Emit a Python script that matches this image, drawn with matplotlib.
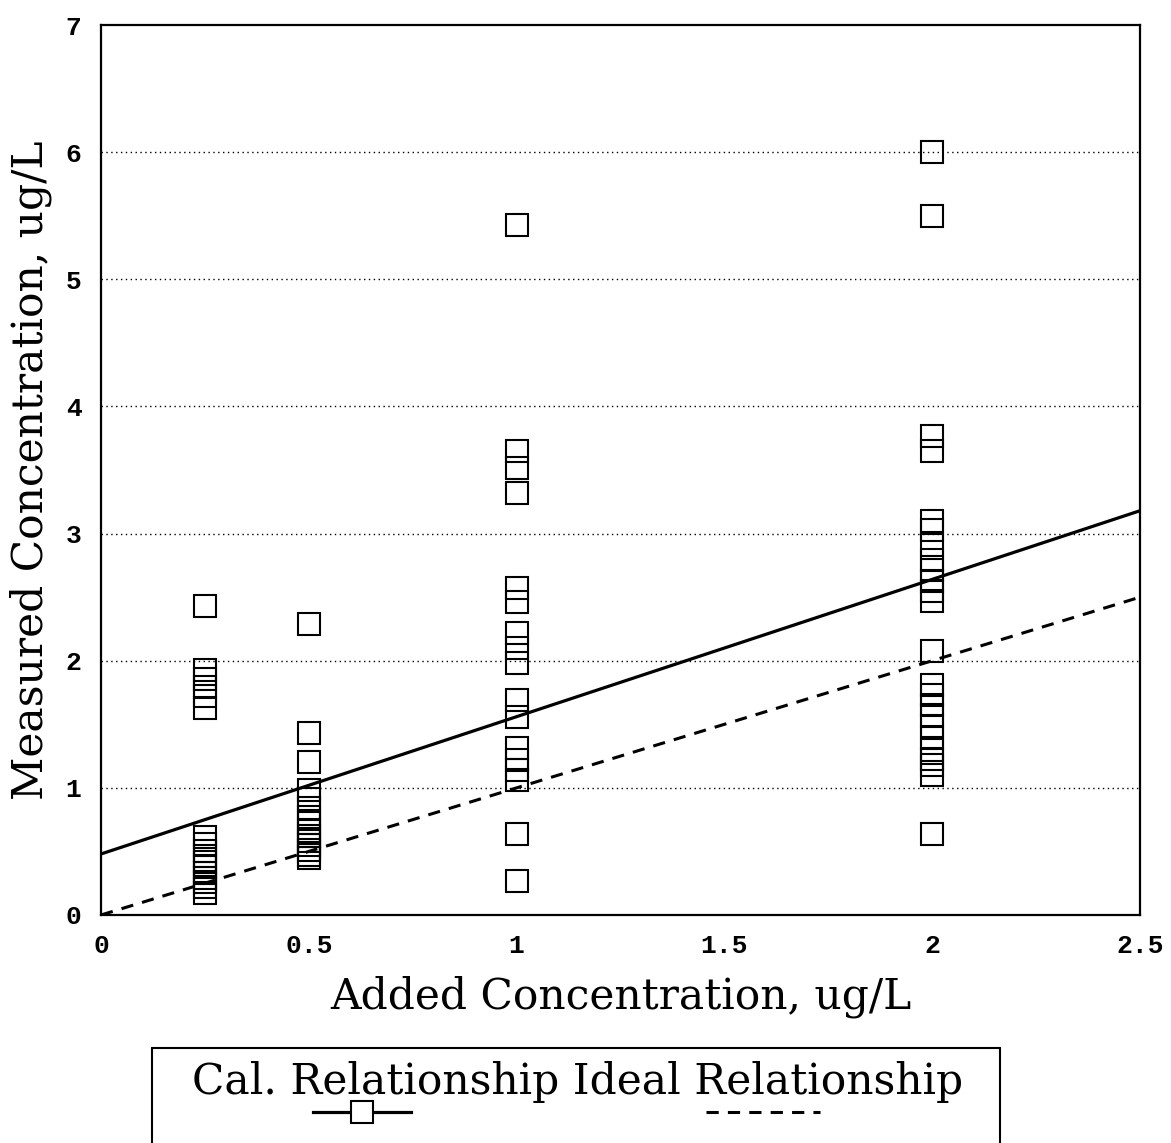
import numpy as np
import matplotlib
matplotlib.use("Agg")
import matplotlib.pyplot as plt
from matplotlib.lines import Line2D
from matplotlib.patches import Rectangle
from matplotlib.font_manager import FontProperties

# measured values at each added concentration (ug/L)
meas_025 = [2.43, 1.93, 1.86, 1.79, 1.72, 1.63,
            0.61, 0.56, 0.50, 0.46, 0.42, 0.38, 0.33, 0.29, 0.26, 0.22, 0.17]
meas_05 = [2.29, 1.43, 1.20, 0.98, 0.91, 0.84, 0.77, 0.72, 0.66, 0.62,
           0.58, 0.55, 0.51, 0.47, 0.45]
meas_1 = [5.43, 3.65, 3.52, 3.32, 2.57, 2.46, 2.22, 2.10, 1.98, 1.69, 1.56,
          1.31, 1.22, 1.14, 1.06, 0.64, 0.27]
meas_2 = [6.0, 5.5, 3.77, 3.65, 3.10, 3.03, 2.91, 2.79, 2.71, 2.63, 2.55, 2.47,
          2.08, 1.81, 1.73, 1.65, 1.57, 1.49, 1.39, 1.30, 1.23, 1.18, 1.10, 0.64]

added = [0.25] * len(meas_025) + [0.5] * len(meas_05) + [1.0] * len(meas_1) + [2.0] * len(meas_2)
measured = meas_025 + meas_05 + meas_1 + meas_2

# calibration fit
cal_intercept = 0.48
cal_slope = 1.08
line_x = np.array([0.0, 2.5])

fig = plt.figure(figsize=(11.71, 11.43), dpi=100)
ax = fig.add_axes([0.0863, 0.1995, 0.8872, 0.7785])

ax.plot(added, measured, linestyle="none", marker="s", markersize=16,
        markerfacecolor="none", markeredgecolor="black", markeredgewidth=1.5)
ax.plot(line_x, cal_intercept + cal_slope * line_x, color="black", lw=2.3)
ax.plot(line_x, line_x, color="black", lw=2.2, linestyle=(0, (4, 3)))

for yv in range(1, 7):
    ax.axhline(yv, color="black", lw=1.0, linestyle=(0, (1, 2.5)), zorder=0)

ax.set_xlim(0, 2.5)
ax.set_ylim(0, 7)
ax.set_xticks([0, 0.5, 1, 1.5, 2, 2.5])
ax.set_xticklabels(["0", "0.5", "1", "1.5", "2", "2.5"])
ax.set_yticks(range(8))
tick_fp = FontProperties(family="Liberation Mono", weight="bold", size=19)
for lab in ax.get_xticklabels() + ax.get_yticklabels():
    lab.set_fontproperties(tick_fp)
ax.tick_params(axis="x", length=0, pad=14)
ax.tick_params(axis="y", length=0, pad=14)
for sp in ax.spines.values():
    sp.set_linewidth(1.6)

label_font = dict(family="DejaVu Serif", size=30.5)
ax.set_xlabel("Added Concentration, ug/L", labelpad=12, **label_font)
ax.set_ylabel("Measured Concentration, ug/L", labelpad=10, **label_font)

# legend box drawn below the plot
fig.patches.append(Rectangle((152 / 1171, -0.01), 848 / 1171, 0.083 + 0.01,
                             transform=fig.transFigure, fill=False,
                             edgecolor="black", lw=1.5))
fig.text(578 / 1171, 1 - 1082 / 1143, "Cal. Relationship Ideal Relationship",
         ha="center", va="center", **label_font)
fig.add_artist(Line2D([313 / 1171, 411 / 1171], [1 - 1112 / 1143] * 2,
                      transform=fig.transFigure, color="black", lw=2.3))
fig.add_artist(Line2D([362 / 1171], [1 - 1112 / 1143], transform=fig.transFigure,
                      marker="s", markersize=16, markerfacecolor="white",
                      markeredgecolor="black", markeredgewidth=1.5))
fig.add_artist(Line2D([706 / 1171, 820 / 1171], [1 - 1112 / 1143] * 2,
                      transform=fig.transFigure, color="black", lw=2.2,
                      linestyle=(0, (4, 3))))

fig.savefig("out.png", dpi=100)
